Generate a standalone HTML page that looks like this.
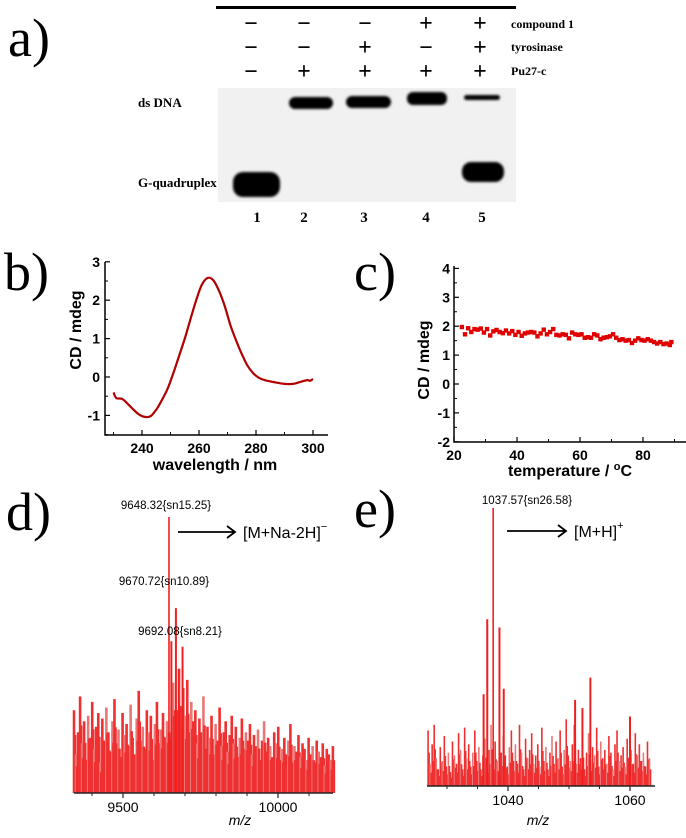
<!DOCTYPE html>
<html><head><meta charset="utf-8"><style>
html,body{margin:0;padding:0;background:#fff;}
svg{display:block;}
.ser{font-family:"Liberation Serif",serif;}
.san{font-family:"Liberation Sans",sans-serif;}
</style></head><body>
<svg id="fig" width="686" height="838" viewBox="0 0 686 838" xmlns="http://www.w3.org/2000/svg">
<defs><filter id="blur" x="-20%" y="-50%" width="140%" height="200%"><feGaussianBlur stdDeviation="1.2"/></filter></defs>
<g>
<text class="ser" x="8" y="56" font-size="54">a)</text>
<rect x="216" y="6" width="300" height="3" fill="#000"/>
<rect x="218" y="88" width="298" height="114" fill="#f1f1f1"/>
<g class="ser" font-size="24" font-weight="bold" text-anchor="middle">
<text x="251" y="31">−</text><text x="304" y="31">−</text><text x="365" y="31">−</text><text x="426" y="31">+</text><text x="480" y="31">+</text>
<text x="251" y="55">−</text><text x="304" y="55">−</text><text x="365" y="55">+</text><text x="426" y="55">−</text><text x="480" y="55">+</text>
<text x="251" y="79">−</text><text x="304" y="79">+</text><text x="365" y="79">+</text><text x="426" y="79">+</text><text x="480" y="79">+</text>
</g>
<g class="ser" font-size="12" font-weight="bold">
<text x="511" y="28">compound 1</text><text x="511" y="51">tyrosinase</text><text x="511" y="75">Pu27-c</text>
</g>
<text class="ser" x="138" y="107" font-size="13" font-weight="bold">ds DNA</text>
<text class="ser" x="138" y="187" font-size="13" font-weight="bold">G-quadruplex</text>
<g fill="#000" filter="url(#blur)">
<rect x="289" y="97" width="44" height="12" rx="6"/>
<rect x="346" y="96" width="45" height="12" rx="6"/>
<rect x="407" y="92" width="40" height="13" rx="6"/>
<rect x="464" y="95" width="36" height="5" rx="2.5"/>
<rect x="233" y="172" width="47" height="25" rx="10"/>
<rect x="462" y="162" width="42" height="20" rx="9"/>
</g>
<g class="ser" font-size="15" font-weight="bold" text-anchor="middle">
<text x="257" y="222">1</text><text x="304" y="222">2</text><text x="364" y="222">3</text><text x="426" y="222">4</text><text x="482" y="222">5</text>
</g>
</g>
<text class="ser" x="4" y="290" font-size="54">b)</text>
<text class="ser" x="354" y="290" font-size="54">c)</text>
<text class="ser" x="6" y="530" font-size="54">d)</text>
<text class="ser" x="354" y="527" font-size="54">e)</text>
<g id="pb"></g>
<g id="pc"></g>
<g id="pd"></g>
<g id="pe"></g>
</svg>
<script>
const bWavelength=[230,231,233,235,237,239,241,243,245,247,249,251,253,255,257,259,261,263,265,267,269,271,273,275,277,279,281,283,286,290,293,296,298,299,300];
const bCD=[-0.4,-0.55,-0.57,-0.7,-0.85,-0.98,-1.04,-1.02,-0.85,-0.6,-0.3,0.1,0.55,1.0,1.5,2.0,2.4,2.58,2.52,2.25,1.85,1.35,0.95,0.6,0.3,0.1,-0.02,-0.08,-0.13,-0.18,-0.18,-0.12,-0.08,-0.1,-0.05];
const bXTicks=[240,260,280,300];
const bYTicks=[3,2,1,0,-1];
const cTemp=[22.5,23.5,24.5,25.5,26.5,27.5,28.5,29.5,30.5,31.5,32.5,33.5,34.5,35.5,36.5,37.5,38.5,39.5,40.5,41.5,42.5,43.5,44.5,45.5,46.5,47.5,48.5,49.5,50.5,51.5,52.5,53.5,54.5,55.5,56.5,57.5,58.5,59.5,60.5,61.5,62.5,63.5,64.5,65.5,66.5,67.5,68.5,69.5,70.5,71.5,72.5,73.5,74.5,75.5,76.5,77.5,78.5,79.5,80.5,81.5,82.5,83.5,84.5,85.5,86.5,87.5,88.5,89];
const cCD=[1.97,1.72,1.93,1.8,1.9,1.88,1.92,1.78,1.9,1.68,1.82,1.87,1.8,1.76,1.85,1.75,1.83,1.7,1.8,1.67,1.75,1.78,1.8,1.78,1.65,1.75,1.88,1.72,1.8,1.9,1.7,1.68,1.72,1.7,1.58,1.78,1.72,1.7,1.72,1.6,1.62,1.6,1.72,1.68,1.55,1.6,1.62,1.65,1.72,1.6,1.52,1.55,1.5,1.52,1.42,1.5,1.58,1.52,1.5,1.55,1.5,1.45,1.4,1.45,1.38,1.4,1.35,1.45];
const cXTicks=[20,40,60,80];
const cYTicks=[4,3,2,1,0,-1,-2];
const dNoise=[30,14,22,35,18,26,12,28,20,33,16,24,29,11,27,19,31,22,15,26,34,18,23,13,29,21,25,17,32,20,14,27,37,19,24,16,30,22,28,12,25,33,18,23,29,20,26,
 22,20,40,30,30,45,24,38,28,41,22,33,26,
 30,18,27,22,35,16,24,20,28,14,25,19,31,17,22,26,15,21,28,18,24,13,20,27,16,22,19,25,14,21,17,23,12,19,26,15,20,17,13,22,18,24,12,16,20,14,19,25,11,17,15,21,13,18,16,12,20,14,17,11,19,15,13,18,10,16,14,12,17];
const dPeakMz=[9648.32,9656,9670.72,9680,9692.08];
const dPeakInt=[100,55,67,45,53];
const dPeakLabels=["9648.32{sn15.25}","9670.72{sn10.89}","9692.08{sn8.21}"];
const dXTicks=[9500,10000];
const eNoise=[20,8,15,22,10,6,14,9,18,7,12,5,16,11,8,19,13,6,21,10,15,7,12,20,9,14,6,11,17,8,13,22,10,16,9,5,12,18,11,7,14,20,9,15,8,22,12,6,17,10,13,19,8,11,15,7,21,9,14,6,12,18,8,16,10,20,7,13,24,11,9,15,22,8,13,10,17,6,12,19,9,14,11,21,7,16,10,13,8,18,12,6,15,20,9,11,14,7,17,10,13,8,19,11,15,9,12,7,16,10];
const ePeakMz=[1037.57,1036.6,1038.6,1036.0,1039.3,1051.0,1052.2,1053.5,1060.0];
const ePeakInt=[100,60,57,33,35,31,28,39,25];
const ePeakLabels=["1037.57{sn26.58}"];
const eXTicks=[1040,1060];

const NS='http://www.w3.org/2000/svg';
function mk(parent,tag,attrs,text){const e=document.createElementNS(NS,tag);for(const k in attrs)e.setAttribute(k,attrs[k]);if(text!==undefined)e.textContent=text;parent.appendChild(e);return e;}
const SANS='"Liberation Sans",sans-serif';

(function(){
const g=document.getElementById('pb');
const xb=w=>142+(w-240)*2.85, yb=v=>377-v*38.4;
const ax=mk(g,'path',{d:'M105 262 V435 H328',fill:'none',stroke:'#000','stroke-width':1.5});


bYTicks.forEach(v=>{
  mk(g,'line',{x1:105,x2:110,y1:yb(v),y2:yb(v),stroke:'#000','stroke-width':1.2});
  mk(g,'line',{x1:105,x2:108,y1:yb(v-0.5),y2:yb(v-0.5),stroke:'#000','stroke-width':1});
  const t=mk(g,'text',{x:100,y:yb(v)+5,'text-anchor':'end','font-family':SANS,'font-size':14,'font-weight':'bold'},String(v));
  
  
});
bXTicks.forEach(w=>{
  mk(g,'line',{x1:xb(w),x2:xb(w),y1:435,y2:430,stroke:'#000','stroke-width':1.2});
  mk(g,'line',{x1:xb(w-10),x2:xb(w-10),y1:435,y2:432,stroke:'#000','stroke-width':1});
  const t=mk(g,'text',{x:xb(w),y:453,'text-anchor':'middle','font-family':SANS,'font-size':14,'font-weight':'bold'},String(w));
  
  
});
const P=bWavelength.map((w,i)=>[xb(w),yb(bCD[i])]);
let d='M'+P[0][0].toFixed(1)+' '+P[0][1].toFixed(1);
for(let i=0;i<P.length-1;i++){
  const p0=P[Math.max(0,i-1)],p1=P[i],p2=P[i+1],p3=P[Math.min(P.length-1,i+2)];
  const c1=[p1[0]+(p2[0]-p0[0])/6,p1[1]+(p2[1]-p0[1])/6],c2=[p2[0]-(p3[0]-p1[0])/6,p2[1]-(p3[1]-p1[1])/6];
  d+=`C${c1[0].toFixed(1)} ${c1[1].toFixed(1)} ${c2[0].toFixed(1)} ${c2[1].toFixed(1)} ${p2[0].toFixed(1)} ${p2[1].toFixed(1)}`;
}
const ln=mk(g,'path',{d:d,fill:'none',stroke:'#b00000','stroke-width':2.2,'stroke-linejoin':'round'});


const xt=mk(g,'text',{x:215,y:470,'text-anchor':'middle','font-family':SANS,'font-size':16,'font-weight':'bold'},'wavelength / nm');


const yt=mk(g,'text',{x:0,y:0,'text-anchor':'middle','font-family':SANS,'font-size':16,'font-weight':'bold',transform:'translate(81 330) rotate(-90)'},'CD / mdeg');


})();

(function(){
const g=document.getElementById('pc');
const xc=t=>454+(t-20)*3.15, yc=v=>384-v*28.9;
const ax=mk(g,'path',{d:'M454 266 V442 H686',fill:'none',stroke:'#000','stroke-width':1.5});


cYTicks.forEach(v=>{
  mk(g,'line',{x1:454,x2:459,y1:yc(v),y2:yc(v),stroke:'#000','stroke-width':1.2});
  if(v>-2) mk(g,'line',{x1:454,x2:457,y1:yc(v-0.5),y2:yc(v-0.5),stroke:'#000','stroke-width':1});
  const t=mk(g,'text',{x:450,y:yc(v)+5,'text-anchor':'end','font-family':SANS,'font-size':14,'font-weight':'bold'},String(v));
  
  
});
cXTicks.forEach(t0=>{
  mk(g,'line',{x1:xc(t0),x2:xc(t0),y1:442,y2:437,stroke:'#000','stroke-width':1.2});
  mk(g,'line',{x1:xc(t0+10),x2:xc(t0+10),y1:442,y2:439,stroke:'#000','stroke-width':1});
  const t=mk(g,'text',{x:xc(t0),y:460,'text-anchor':'middle','font-family':SANS,'font-size':14,'font-weight':'bold'},String(t0));
  
  
});
cTemp.forEach((t0,i)=>{
  const r=mk(g,'rect',{x:xc(t0)-2.2,y:yc(cCD[i])-2.2,width:4.4,height:4.4,fill:'#e00000'});
  
  
});
const xt=mk(g,'text',{x:570,y:476,'text-anchor':'middle','font-family':SANS,'font-size':16,'font-weight':'bold'});
xt.innerHTML='temperature / <tspan font-size="11" dy="-6">o</tspan><tspan dy="6">C</tspan>';


const yt=mk(g,'text',{x:0,y:0,'text-anchor':'middle','font-family':SANS,'font-size':16,'font-weight':'bold',transform:'translate(429 360) rotate(-90)'},'CD / mdeg');


})();

function ms(g,cfg){
  const x=m=>cfg.x0+(m-cfg.m0)*cfg.k, y=p=>cfg.base-p/100*cfg.h;
  const n=cfg.noise.length, step=(cfg.mMax-cfg.mMin)/(n-1);
  cfg.noise.forEach((p,i)=>{
    const m=cfg.mMin+i*step;
    const l=mk(g,'line',{x1:x(m),x2:x(m),y1:cfg.base,y2:y(p),stroke:i%3===1?'#e87878':'#f03030','stroke-width':cfg.w});
    
    
    const l2=mk(g,'line',{x1:x(m)+step*cfg.k/2,x2:x(m)+step*cfg.k/2,y1:cfg.base,y2:y(p*cfg.fill),stroke:'#f03030','stroke-width':cfg.w});
    
    
  });
  cfg.pm.forEach((m,i)=>{
    const l=mk(g,'line',{x1:x(m),x2:x(m),y1:cfg.base,y2:y(cfg.pi[i]),stroke:'#f02020','stroke-width':i===0?1.6:2});
    
    
  });
  const ax=mk(g,'line',{x1:cfg.a0,x2:cfg.a1,y1:cfg.base,y2:cfg.base,stroke:'#222','stroke-width':1.5});
  
  
  for(let m=cfg.minor0;x(m)<=cfg.a1;m+=cfg.minorStep){ if(x(m)>=cfg.a0) mk(g,'line',{x1:x(m),x2:x(m),y1:cfg.base,y2:cfg.base+3,stroke:'#222','stroke-width':1}); }
  cfg.ticks.forEach(m=>{
    mk(g,'line',{x1:x(m),x2:x(m),y1:cfg.base,y2:cfg.base+5,stroke:'#222','stroke-width':1.2});
    const t=mk(g,'text',{x:x(m),y:cfg.base+19,'text-anchor':'middle','font-family':SANS,'font-size':14},String(m));
    
    
  });
  const mz=mk(g,'text',{x:cfg.mzx,y:825,'text-anchor':'middle','font-family':SANS,'font-size':14,'font-style':'italic'},'m/z');
  
  
  cfg.labels.forEach((s,i)=>{
    const t=mk(g,'text',{x:cfg.lx[i],y:cfg.ly[i],'text-anchor':'middle','font-family':SANS,'font-size':11.5},s);
    
    
  });
  const ar=mk(g,'path',{d:`M${cfg.ar[0]} ${cfg.ar[2]} H${cfg.ar[1]} M${cfg.ar[1]-8} ${cfg.ar[2]-6} L${cfg.ar[1]} ${cfg.ar[2]} L${cfg.ar[1]-8} ${cfg.ar[2]+6}`,fill:'none',stroke:'#000','stroke-width':1.8});
  
  
  const ion=mk(g,'text',{x:cfg.ar[1]+8,y:cfg.ar[2]+6,'font-family':SANS,'font-size':16});
  ion.innerHTML=cfg.ion+'<tspan font-size="11" dy="-8">'+cfg.sup+'</tspan>';
  
  
}
ms(document.getElementById('pd'),{x0:123,m0:9500,k:0.31,base:793,h:276,mMin:9342,mMax:10177,a0:74,a1:333,w:2.6,fill:0.7,
 noise:dNoise,pm:dPeakMz,pi:dPeakInt,ticks:dXTicks,minor0:9400,minorStep:100,mzx:240,
 labels:dPeakLabels,lx:[166,164,180],ly:[509,585,635],ar:[178,235,532],ion:'[M+Na-2H]',sup:'−'});
ms(document.getElementById('pe'),{x0:508,m0:1040,k:6.1,base:786,h:278,mMin:1026.9,mMax:1063.2,a0:427,a1:655,w:1.6,fill:0.6,
 noise:eNoise,pm:ePeakMz,pi:ePeakInt,ticks:eXTicks,minor0:1030,minorStep:5,mzx:538,
 labels:ePeakLabels,lx:[527],ly:[504],ar:[507,566,531],ion:'[M+H]',sup:'+'});
</script>
</body></html>
